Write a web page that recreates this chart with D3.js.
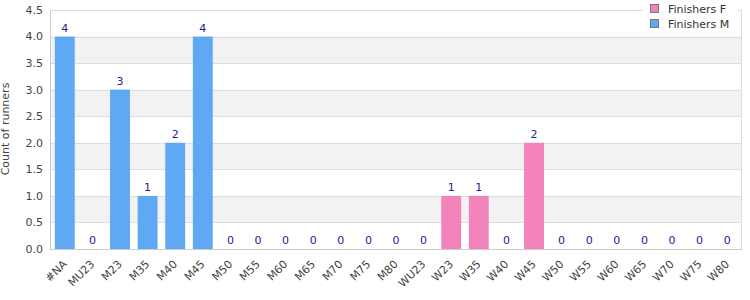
<!DOCTYPE html>
<html>
<head>
<meta charset="utf-8">
<script src="https://cdn.jsdelivr.net/npm/d3@7"></script>
<style>
  body { margin: 0; background: #fff; }
  svg { font-family: "DejaVu Sans", Verdana, sans-serif; }
</style>
</head>
<body>
<svg id="chart" width="750" height="300"></svg>
<script>
const categories = ['#NA', 'MU23', 'M23', 'M35', 'M40', 'M45', 'M50', 'M55', 'M60', 'M65', 'M70', 'M75', 'M80',
  'WU23', 'W23', 'W35', 'W40', 'W45', 'W50', 'W55', 'W60', 'W65', 'W70', 'W75', 'W80'];
const finishersF = [0, 0, 0, 0, 0, 0, 0, 0, 0, 0, 0, 0, 0, 0, 1, 1, 0, 2, 0, 0, 0, 0, 0, 0, 0];
const finishersM = [4, 0, 3, 1, 2, 4, 0, 0, 0, 0, 0, 0, 0, 0, 0, 0, 0, 0, 0, 0, 0, 0, 0, 0, 0];
const yTicks = [0, 0.5, 1, 1.5, 2, 2.5, 3, 3.5, 4, 4.5];
const seriesNames = ['Finishers F', 'Finishers M'];
const seriesColors = ['#f283bb', '#5fa8f4'];

const svg = d3.select('#chart');
const plotL = 51, plotR = 741, plotT = 10, plotB = 249;

const x = d3.scaleBand().domain(categories).range([plotL, plotR]).paddingInner(0.28).paddingOuter(0.14);
const y = d3.scaleLinear().domain([0, 4.5]).range([plotB, plotT]);

// alternating bands
const bands = svg.append('g');
for (let i = 0; i < yTicks.length - 1; i++) {
  if (i % 2 === 1) {
    bands.append('rect')
      .attr('x', plotL).attr('width', plotR - plotL)
      .attr('y', y(yTicks[i + 1])).attr('height', y(yTicks[i]) - y(yTicks[i + 1]))
      .attr('fill', '#f2f2f2');
  }
}
// grid lines
svg.append('g').selectAll('line').data(yTicks.slice(1)).join('line')
  .attr('x1', plotL).attr('x2', plotR)
  .attr('y1', d => Math.round(y(d)) + 0.5).attr('y2', d => Math.round(y(d)) + 0.5)
  .attr('stroke', '#dddddd');
// right border
svg.append('line').attr('x1', plotR + 0.5).attr('x2', plotR + 0.5).attr('y1', plotT).attr('y2', plotB)
  .attr('stroke', '#dddddd');

const table = categories.map((c, i) => ({ cat: c, F: finishersF[i], M: finishersM[i] }));
const stack = d3.stack().keys(['F', 'M'])(table);

svg.append('g').selectAll('g').data(stack).join('g')
  .attr('fill', (d, i) => seriesColors[i])
  .selectAll('rect').data(d => d).join('rect')
  .attr('x', d => x(d.data.cat))
  .attr('width', x.bandwidth())
  .attr('y', d => y(d[1]))
  .attr('height', d => y(d[0]) - y(d[1]));

// axes lines
svg.append('line').attr('x1', plotL - 0.5).attr('x2', plotL - 0.5).attr('y1', plotT).attr('y2', plotB + 1)
  .attr('stroke', '#cccccc');
svg.append('line').attr('x1', plotL).attr('x2', plotR + 1).attr('y1', plotB + 0.5).attr('y2', plotB + 0.5)
  .attr('stroke', '#cccccc');

// y ticks
svg.append('g').selectAll('text').data(yTicks).join('text')
  .attr('x', plotL - 8).attr('y', d => y(d)).attr('dy', '0.35em')
  .attr('text-anchor', 'end').attr('font-size', 11).attr('fill', '#444')
  .text(d => d.toFixed(1));

// y title
svg.append('text')
  .attr('transform', 'translate(9,129) rotate(-90)')
  .attr('text-anchor', 'middle').attr('font-size', 11).attr('fill', '#444')
  .text('Count of runners');

// x labels
svg.append('g').selectAll('text').data(categories).join('text')
  .attr('transform', d => `translate(${x(d) + x.bandwidth() / 2},${plotB + 13}) rotate(-45)`)
  .attr('text-anchor', 'end').attr('dy', '0.35em').attr('font-size', 11).attr('fill', '#444')
  .text(d => d);

// value labels
svg.append('g').selectAll('text').data(table).join('text')
  .attr('x', d => x(d.cat) + x.bandwidth() / 2)
  .attr('y', d => y(d.F + d.M) - 5)
  .attr('text-anchor', 'middle').attr('font-size', 11).attr('fill', '#1c1c94')
  .text(d => d.F + d.M);

// legend
const lg = svg.append('g').attr('transform', 'translate(643,0)');
lg.append('rect').attr('x', 0).attr('y', 0).attr('width', 94).attr('height', 32).attr('fill', '#fff');
seriesNames.forEach((n, i) => {
  lg.append('rect').attr('x', 7.5).attr('y', 4.5 + i * 15).attr('width', 8).attr('height', 8)
    .attr('fill', seriesColors[i]).attr('stroke', '#777');
  lg.append('text').attr('x', 25).attr('y', 9 + i * 15).attr('dy', '0.35em')
    .attr('font-size', 11).attr('fill', '#333').text(n);
});
</script>
</body>
</html>
